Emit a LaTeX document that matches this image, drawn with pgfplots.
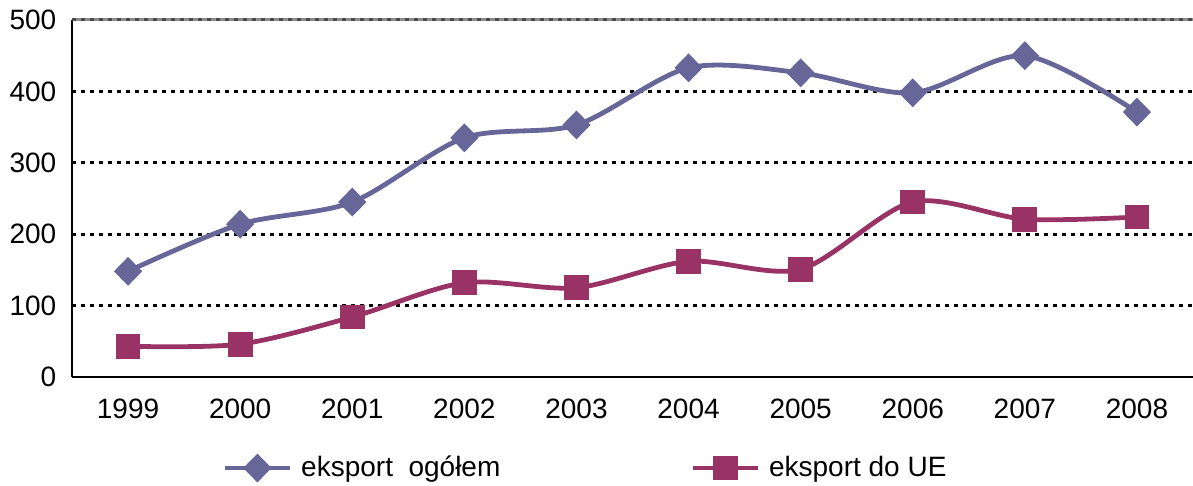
\documentclass[border=0pt]{standalone}
\usepackage{fontspec}
\setmainfont{Liberation Sans}
\usepackage{pgfplots}
\pgfplotsset{compat=1.18}
\definecolor{ser1}{HTML}{666699}
\definecolor{ser2}{HTML}{993366}
\begin{document}
\fontsize{14pt}{16pt}\selectfont
\begin{tikzpicture}
\begin{axis}[
  scale only axis,
  width=560.5pt, height=178.5pt,
  xmin=-0.5, xmax=9.5, ymin=0, ymax=500,
  xtick={0,...,9},
  xticklabels={1999,2000,2001,2002,2003,2004,2005,2006,2007,2008},
  ytick={0,100,200,300,400,500},
  axis x line*=bottom, axis y line*=left,
  axis line style={line width=1.2pt, -},
  major tick length=0pt,
  ymajorgrids,
  grid style={black, line width=1.4pt, dash pattern=on 2.2pt off 2.3pt},
  /pgf/number format/assume math mode=true,
  yticklabel style={xshift=-3pt},
  xticklabel style={yshift=-6pt},
  tick label style={font=\fontsize{14pt}{16pt}\selectfont},
  legend columns=2,
  legend style={draw=none, at={(0.459,-0.255)}, anchor=center, font=\fontsize{14pt}{16pt}\selectfont,
    /tikz/every odd column/.append style={column sep=2.5pt},
    /tikz/every even column/.append style={column sep=93pt}},
  legend image code/.code={\draw[mark repeat=2,mark phase=2] plot coordinates {(0cm,0cm) (0.57cm,0cm) (1.14cm,0cm)};},
  clip=false,
]
\draw[gray!90, line width=1.5pt] (axis cs:-0.5,500) -- (axis cs:9.5,500);
\draw[gray!60!black, line width=1.5pt, dash pattern=on 2.2pt off 2.3pt] (axis cs:-0.5,500) -- (axis cs:9.5,500);
\addplot[ser1, line width=2.4pt, smooth, mark=diamond*, mark size=5.5pt, mark options={xscale=1.3, solid}]
 coordinates {(0,148) (1,214) (2,245) (3,335) (4,353) (5,433) (6,426) (7,398) (8,450) (9,371)};
\addlegendentry{eksport\ \ ogółem}
\addplot[ser2, line width=2.4pt, smooth, mark=square*, mark size=5pt]
 coordinates {(0,43) (1,46) (2,84) (3,132) (4,125) (5,162) (6,151) (7,245) (8,221) (9,224)};
\addlegendentry{eksport do UE}
\end{axis}
\pgfresetboundingbox
\useasboundingbox ([xshift=-36pt,yshift=-54.5pt]current axis.south west) rectangle ([yshift=10pt]current axis.north east);
\end{tikzpicture}
\end{document}
